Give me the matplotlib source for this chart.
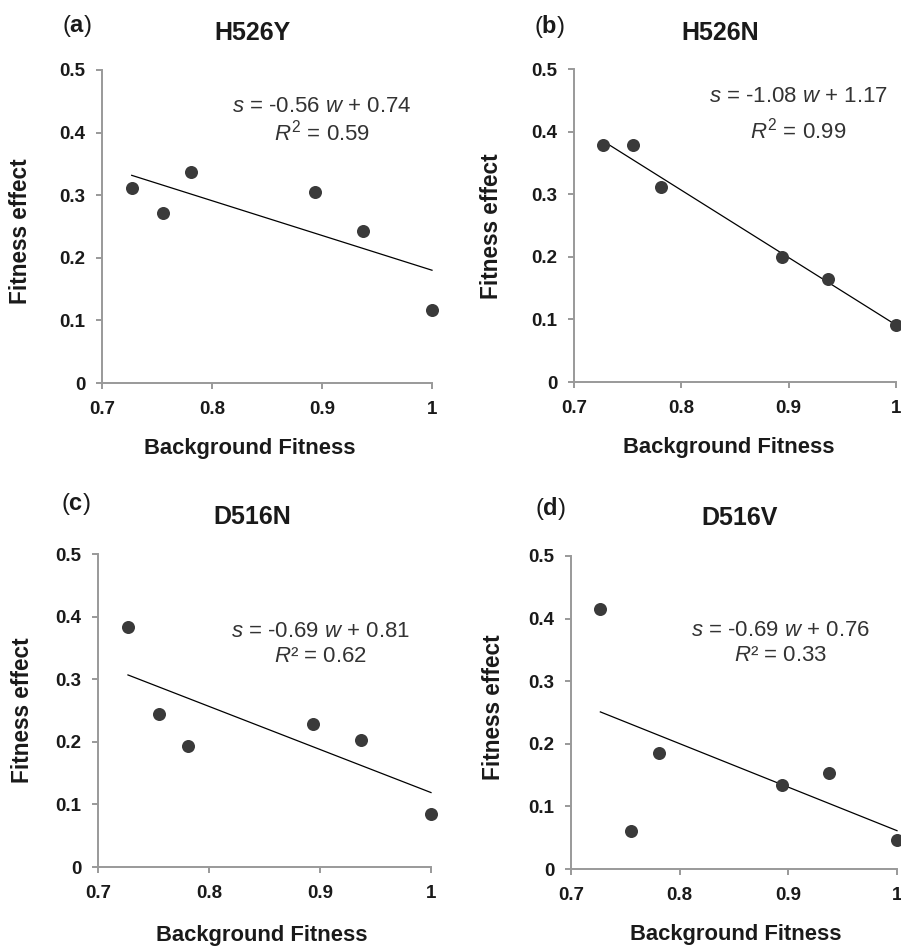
import numpy as np
import matplotlib
matplotlib.use("Agg")
import matplotlib.pyplot as plt

plt.rcParams['font.family'] = ['Liberation Sans', 'DejaVu Sans']
plt.rcParams['mathtext.fontset'] = 'custom'
plt.rcParams['mathtext.rm'] = 'Liberation Sans'
plt.rcParams['mathtext.it'] = 'Liberation Sans:italic'
plt.rcParams['mathtext.bf'] = 'Liberation Sans:bold'

# background fitness (same for all panels)
background = [0.727, 0.755, 0.781, 0.894, 0.937, 1.0]

effect_h526y = [0.312, 0.271, 0.337, 0.305, 0.243, 0.116]
effect_h526n = [0.378, 0.378, 0.311, 0.199, 0.165, 0.091]
effect_d516n = [0.383, 0.245, 0.193, 0.228, 0.203, 0.085]
effect_d516v = [0.415, 0.061, 0.186, 0.134, 0.154, 0.047]

titles = ['H526Y', 'H526N', 'D516N', 'D516V']
letters = ['a', 'b', 'c', 'd']
equations = [r'$s$ = -0.56 $w$ + 0.74', r'$s$ = -1.08 $w$ + 1.17',
             r'$s$ = -0.69 $w$ + 0.81', r'$s$ = -0.69 $w$ + 0.76']
r2_labels = [r'$R^2$ = 0.59', r'$R^2$ = 0.99', r'$R$² = 0.62', r'$R$² = 0.33']
xticks = [0.7, 0.8, 0.9, 1.0]
xticklabels = ['0.7', '0.8', '0.9', '1']
yticks = [0, 0.1, 0.2, 0.3, 0.4, 0.5]
yticklabels = ['0', '0.1', '0.2', '0.3', '0.4', '0.5']

W, H = 901, 946
fig = plt.figure(figsize=(W / 100, H / 100), dpi=100)


def px(x, y):
    return x / W, 1 - y / H


# axes boxes in pixels: left, top, right, bottom
boxes = [(102, 70, 432, 383), (574, 69, 896, 382),
         (98, 554, 431, 867), (571, 556, 897, 869)]
eq_pos = [(0.667, 0.882, 0.799), (0.696, 0.911, 0.802),
          (0.668, 0.752, 0.672), (0.643, 0.761, 0.683)]
title_pos = [(252, 33), (720, 33), (252, 517), (740, 518)]
letter_pos = [(77, 26), (549, 26), (76, 504), (550, 509)]
xlabel_pos = [(250, 448), (729, 447), (262, 935), (736, 934)]
ylabel_pos = [(21, 231), (492, 226), (23, 710), (493, 707)]

all_effects = [effect_h526y, effect_h526n, effect_d516n, effect_d516v]
gray = '#999999'
dark = '#3a3a3a'
txt = '#1a1a1a'

for i, eff in enumerate(all_effects):
    l, t, r, b = boxes[i]
    ax = fig.add_axes([l / W, 1 - b / H, (r - l) / W, (b - t) / H])
    x = np.array(background)
    y = np.array(eff)
    ax.scatter(x, y, s=88, color=dark, zorder=3, clip_on=False, linewidths=0)
    k, c = np.polyfit(x, y, 1)
    xl = np.array([x.min(), x.max()])
    ax.plot(xl, k * xl + c, color='black', lw=0.9, zorder=2, clip_on=False)

    ax.set_xlim(0.7, 1.0)
    ax.set_ylim(0, 0.5)
    ax.set_xticks(xticks)
    ax.set_xticklabels(xticklabels)
    ax.set_yticks(yticks)
    ax.set_yticklabels(yticklabels)
    for sp in ['top', 'right']:
        ax.spines[sp].set_visible(False)
    for sp in ['left', 'bottom']:
        ax.spines[sp].set_color(gray)
        ax.spines[sp].set_linewidth(1.4)
    ax.tick_params(direction='out', length=4, width=1.4, color=gray,
                   labelsize=13.5, labelcolor=txt)
    ax.tick_params(axis='x', pad=9)
    ax.tick_params(axis='y', pad=8)
    for lab in ax.get_xticklabels() + ax.get_yticklabels():
        lab.set_fontweight('bold')

    ex, ey1, ey2 = eq_pos[i]
    ax.text(ex, ey1, equations[i], transform=ax.transAxes, ha='center',
            va='center', fontsize=16, color='#333333')
    ax.text(ex, ey2, r2_labels[i], transform=ax.transAxes, ha='center',
            va='center', fontsize=16, color='#333333')

    fig.text(*px(*title_pos[i]), titles[i], ha='center', va='center',
             fontsize=18, fontweight='bold', color=txt)
    fig.text(*px(*letter_pos[i]), '($\\mathbf{%s}$)' % letters[i],
             ha='center', va='center', fontsize=17, color=txt)
    fig.text(*px(*xlabel_pos[i]), 'Background Fitness', ha='center',
             va='center', fontsize=15.8, fontweight='bold', color=txt)
    fig.text(*px(*ylabel_pos[i]), 'Fitness effect', ha='center',
             va='center', fontsize=16.3, fontweight='bold', color=txt,
             rotation=90)

fig.savefig('out.png', dpi=100, facecolor='white')
